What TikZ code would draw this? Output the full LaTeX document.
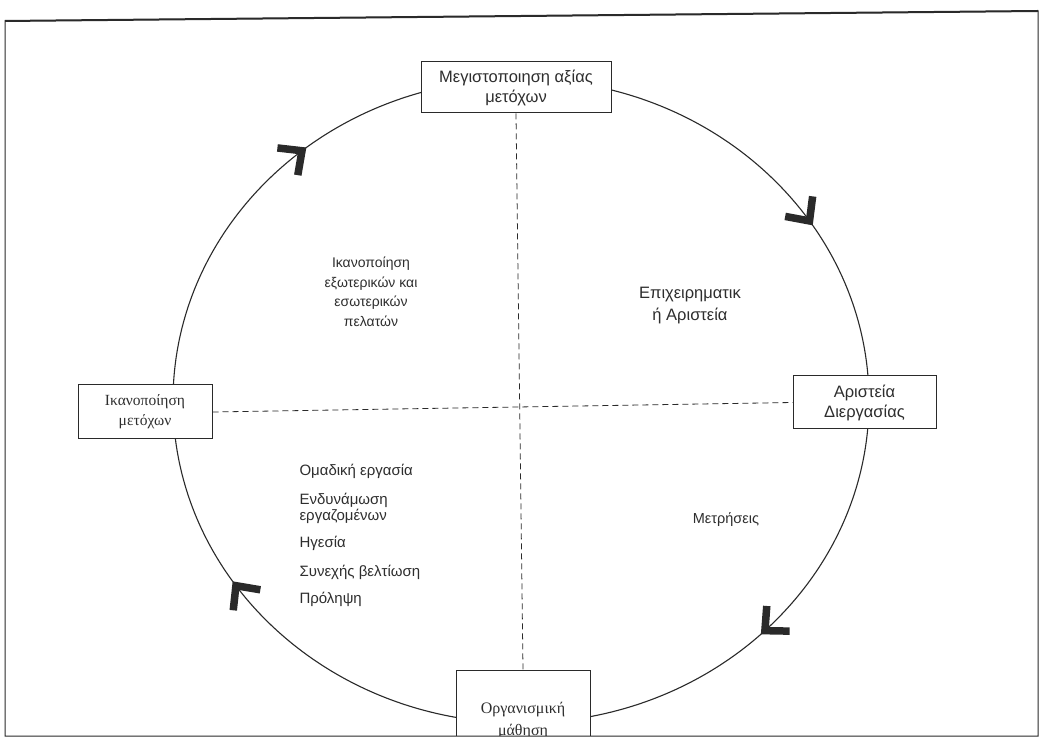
\documentclass[tikz,border=0pt]{standalone}
\usepackage{fontspec}
\setmainfont{Liberation Sans}
\newfontfamily\serifgr{Liberation Serif}
\definecolor{ink}{HTML}{2A2A2A}
\definecolor{txt}{HTML}{2E2E2E}
\newcommand\fs[2]{\fontsize{#1}{#2}\selectfont}
\begin{document}
\begin{tikzpicture}[x=1pt,y=1pt,
  line/.style={draw=ink, line width=1.1pt},
  box/.style={draw=ink, fill=white, line width=1pt, align=center,
    inner sep=0pt, text=txt, font=\fs{14}{18}},
  label/.style={align=center, text=txt, font=\fs{14}{19.5}},
  divider/.style={draw=ink, line width=0.8pt, dash pattern=on 6pt off 4pt},
  chev/.style={draw=ink, line width=7.5pt, line join=miter, line cap=butt},
]
\useasboundingbox (0,0) rectangle (1041,742);
\fill[white] (0,0) rectangle (1041,742);

% cycle
\draw[line] (521,341) ellipse [x radius=348, y radius=322];

% direction marks along the cycle (clockwise)
\foreach \a in {129,34,-45.5,-145} {
  \pgfmathsetmacro\px{521+348*cos(\a)}
  \pgfmathsetmacro\py{341+322*sin(\a)}
  \pgfmathsetmacro\rot{atan2(-322*cos(\a),348*sin(\a))}
  \begin{scope}[shift={(\px,\py)}, rotate=\rot]
    \draw[chev] (-18,17) -- (0,0) -- (-18,-17);
  \end{scope}
}

% stages on the cycle
\node[box, minimum width=190pt, minimum height=51pt, font=\fs{16.5}{20}] (top) at (516,654.5)
  {Μεγιστοποιηση αξίας\\μετόχων};
\node[box, minimum width=134pt, minimum height=54pt, font=\serifgr\fs{15.5}{20}]
  (left) at (145,330) {Ικανοποίηση\\μετόχων};
\node[box, minimum width=143pt, minimum height=53pt, font=\fs{16.5}{20}] (right) at (864.5,339.5)
  {Αριστεία\\Διεργασίας};
\node[box, minimum width=134pt, minimum height=66pt, anchor=north] (bottom) at (523,72) {};
\node[label, font=\serifgr\fs{16}{22}] (bottomtext) at (523,21) {Οργανισμική\\μάθηση};
\fill[white] (0,0) rectangle (1041,6);

% quadrant dividers
\draw[divider] (top.south) -- (bottom.north);
\draw[divider] (left.east) -- (right.west);

% quadrant texts
\node[label] (cust) at (371,450)
  {Ικανοποίηση\\εξωτερικών και\\εσωτερικών\\πελατών};
\node[label, font=\fs{16.5}{22}] (biz) at (690,436) {Επιχειρηματικ\\ή Αριστεία};
\node[label, font=\fs{14.5}{18}] (meas) at (726,222) {Μετρήσεις};
\node[label, align=left, anchor=north west, font=\fs{15}{16.5}]
  (list) at (296,281)
  {Ομαδική εργασία\\[12pt]
   Ενδυνάμωση\\
   εργαζομένων\\[10.5pt]
   Ηγεσία\\[12pt]
   Συνεχής βελτίωση\\[11pt]
   Πρόληψη};

% frame
\draw[draw=ink, line width=1pt] (5,6) -- (5,721) -- (1038,731) -- (1038,6) -- cycle;
\draw[draw=ink, line width=2pt] (5,721) -- (1038,731);
\end{tikzpicture}
\end{document}
